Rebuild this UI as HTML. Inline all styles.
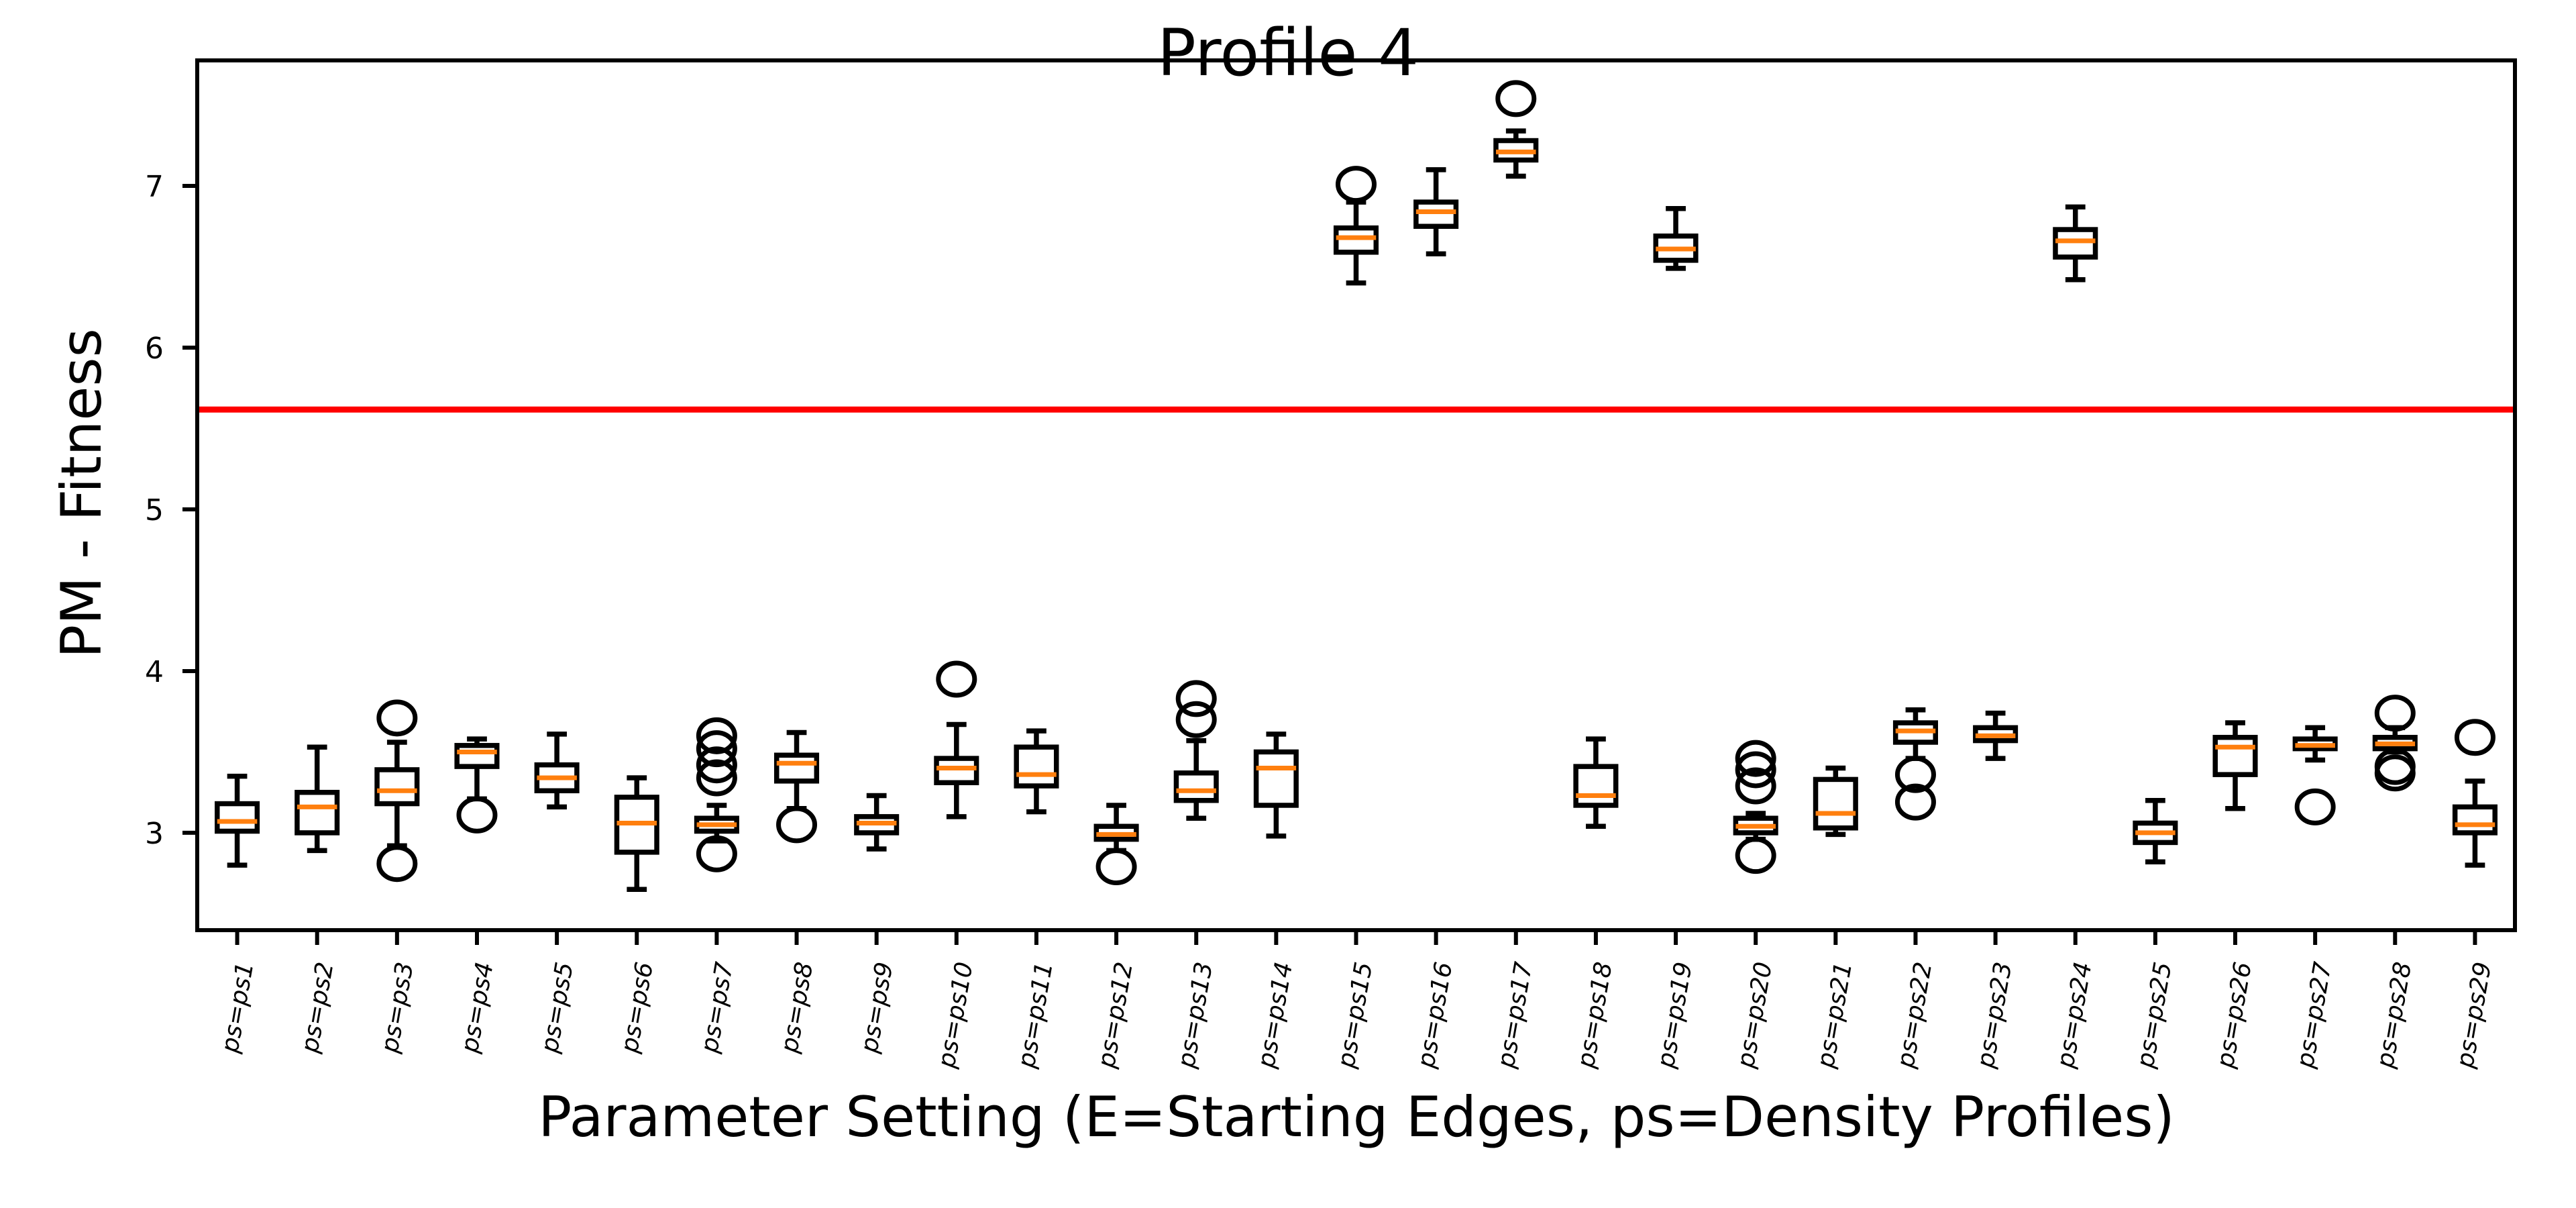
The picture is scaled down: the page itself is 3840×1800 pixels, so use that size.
<!DOCTYPE html>
<html><head><meta charset="utf-8"><style>
html,body{margin:0;padding:0;background:#fff;}
svg{display:block;font-family:"DejaVu Sans","Liberation Sans",sans-serif;}
</style></head><body>
<svg id="chart" width="3840" height="1800" viewBox="0 0 3840 1800" xmlns="http://www.w3.org/2000/svg">
<rect width="3840" height="1800" fill="#fff"/>
<text x="1920" y="112" font-size="96" text-anchor="middle">Profile 4</text>
<text transform="translate(150,735) rotate(-90)" font-size="83" text-anchor="middle">PM - Fitness</text>
<text x="2022" y="1693" font-size="83" text-anchor="middle">Parameter Setting (E=Starting Edges, ps=Density Profiles)</text>
<g id="plot"></g>
</svg>
<script>
const categories = ["ps=ps1","ps=ps2","ps=ps3","ps=ps4","ps=ps5","ps=ps6","ps=ps7","ps=ps8","ps=ps9","ps=ps10","ps=ps11","ps=ps12","ps=ps13","ps=ps14","ps=ps15","ps=ps16","ps=ps17","ps=ps18","ps=ps19","ps=ps20","ps=ps21","ps=ps22","ps=ps23","ps=ps24","ps=ps25","ps=ps26","ps=ps27","ps=ps28","ps=ps29"];
const whiskerLow = [2.80,2.89,2.92,3.21,3.16,2.65,2.95,3.15,2.90,3.10,3.13,2.89,3.09,2.98,6.40,6.58,7.06,3.04,6.49,2.96,2.99,3.46,3.46,6.42,2.82,3.15,3.45,3.50,2.80];
const q1 = [3.01,3.00,3.18,3.41,3.26,2.88,3.01,3.32,3.00,3.31,3.29,2.96,3.20,3.17,6.59,6.75,7.16,3.17,6.54,3.00,3.03,3.56,3.57,6.56,2.94,3.36,3.52,3.52,3.00];
const medians = [3.07,3.16,3.26,3.50,3.34,3.06,3.05,3.43,3.06,3.40,3.36,2.99,3.26,3.40,6.68,6.84,7.21,3.23,6.61,3.04,3.12,3.63,3.60,6.66,3.00,3.53,3.54,3.55,3.05];
const q3 = [3.18,3.25,3.39,3.54,3.42,3.22,3.09,3.48,3.10,3.46,3.53,3.04,3.37,3.50,6.74,6.90,7.28,3.41,6.69,3.09,3.33,3.68,3.65,6.73,3.06,3.59,3.58,3.59,3.16];
const whiskerHigh = [3.35,3.53,3.56,3.58,3.61,3.34,3.17,3.62,3.23,3.67,3.63,3.17,3.57,3.61,6.90,7.10,7.34,3.58,6.86,3.12,3.40,3.76,3.74,6.87,3.20,3.68,3.65,3.65,3.32];
const fliers = [[],[],[3.71,2.81],[3.11],[],[],[3.60,3.52,3.42,3.34,2.87],[3.05],[],[3.95],[],[2.79],[3.83,3.70],[],[7.01],[],[7.54],[],[],[3.46,3.39,3.29,2.86],[],[3.36,3.19],[],[],[],[],[3.16],[3.74,3.41,3.37],[3.59]];
const refLine = [5.617];
const yTicks = [3,4,5,6,7];

const L=294,R=3749,T=90,B=1386,ymin=2.398,ymax=7.776;
const n=categories.length;
const xs=i=>L+(i+1-0.5)*(R-L)/n;
const ys=v=>B-(v-ymin)/(ymax-ymin)*(B-T);
const unit=(R-L)/n;
const NS="http://www.w3.org/2000/svg";
const g=document.getElementById('plot');
function mk(tag,attrs,parent){const e=document.createElementNS(NS,tag);for(const k in attrs)e.setAttribute(k,attrs[k]);(parent||g).appendChild(e);return e;}

let rl=mk('line',{x1:L,x2:R,y1:ys(refLine[0]),y2:ys(refLine[0]),stroke:'#ff0000','stroke-width':9});



for(let i=0;i<n;i++){
  const grp=mk('g',{});
  
  
  const cx=xs(i),hw=unit*0.25,cw=unit*0.125;
  const st={stroke:'#000','stroke-width':7.5,fill:'none'};
  mk('line',Object.assign({x1:cx,x2:cx,y1:ys(q1[i]),y2:ys(whiskerLow[i])},st),grp);
  mk('line',Object.assign({x1:cx,x2:cx,y1:ys(q3[i]),y2:ys(whiskerHigh[i])},st),grp);
  mk('line',Object.assign({x1:cx-cw,x2:cx+cw,y1:ys(whiskerLow[i]),y2:ys(whiskerLow[i])},st),grp);
  mk('line',Object.assign({x1:cx-cw,x2:cx+cw,y1:ys(whiskerHigh[i]),y2:ys(whiskerHigh[i])},st),grp);
  mk('rect',Object.assign({x:cx-hw,y:ys(q3[i]),width:2*hw,height:ys(q1[i])-ys(q3[i])},st),grp);
  mk('line',{x1:cx-hw,x2:cx+hw,y1:ys(medians[i]),y2:ys(medians[i]),stroke:'#ff7f0e','stroke-width':7},grp);
  fliers[i].forEach(v=>{mk('ellipse',{cx:cx,cy:ys(v),rx:27,ry:24,stroke:'#000','stroke-width':7,fill:'none'},grp);});
  const tk=mk('line',{x1:cx,x2:cx,y1:B,y2:B+22,stroke:'#000','stroke-width':6});
  
  
  const tl=mk('text',{transform:`translate(${cx+24},${B+50}) rotate(-80)`,'font-size':36,'font-style':'italic','text-anchor':'end'});
  tl.textContent=categories[i];
  
  
}
yTicks.forEach(v=>{
  const tk=mk('line',{x1:L-22,x2:L,y1:ys(v),y2:ys(v),stroke:'#000','stroke-width':6});
  
  
  const tl=mk('text',{x:L-50,y:ys(v)+16,'font-size':44,'text-anchor':'end'});
  tl.textContent=String(v);
  
  
});
const fr=mk('rect',{x:L,y:T,width:R-L,height:B-T,fill:'none',stroke:'#000','stroke-width':6});


</script>
</body></html>
